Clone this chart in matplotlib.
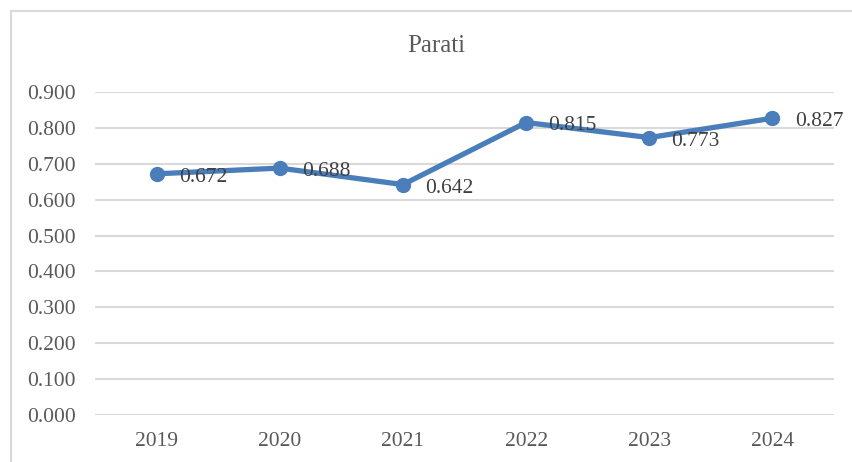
import numpy as np
from matplotlib import pyplot as plt
from matplotlib.patches import Rectangle

years = ["2019", "2020", "2021", "2022", "2023", "2024"]
values = [0.672, 0.688, 0.642, 0.815, 0.773, 0.827]
y_ticks = [0.0, 0.1, 0.2, 0.3, 0.4, 0.5, 0.6, 0.7, 0.8, 0.9]
title = "Parati"

plt.rcParams['font.family'] = ['Liberation Serif', 'DejaVu Serif']
text_col = "#595959"
line_col = "#4a7ebb"

fig = plt.figure(figsize=(8.52, 4.62), dpi=100)
ax = fig.add_axes([95/852, 1-415/462, (834-95)/852, (415-92)/462])

# chart border (only left/top visible in the reference)
fig.patches.append(Rectangle((11/852, -0.1), 1.2, 1-11/462+0.1,
                             transform=fig.transFigure, fill=False,
                             edgecolor="#d9d9d9", linewidth=1.5))

x = np.arange(len(years))
ax.plot(x, values, color=line_col, linewidth=3.8, marker="o",
        markersize=10, solid_capstyle="round", zorder=3)
for xi, v in zip(x, values):
    ax.annotate(f"{v:.3f}", (xi, v), xytext=(16, -2.5), textcoords="offset points",
                va="center", ha="left", fontsize=15.5, color="#404040", zorder=4)

ax.set_xlim(-0.5, len(years) - 0.5)
ax.set_ylim(0, 0.9)
ax.set_xticks(x)
ax.set_xticklabels(years)
ax.set_yticks(y_ticks)
ax.set_yticklabels([f"{t:.3f}" for t in y_ticks])
ax.tick_params(axis="both", length=0, labelsize=15.5, labelcolor=text_col)
ax.tick_params(axis="y", pad=14)
ax.tick_params(axis="x", pad=12)
ax.grid(axis="y", color="#d9d9d9", linewidth=1.5)
ax.set_axisbelow(True)
for s in ax.spines.values():
    s.set_visible(False)

fig.text(436/852, 1-46/462, title, ha="center", va="center",
         fontsize=18, color=text_col)

fig.savefig("out.png", dpi=100)
